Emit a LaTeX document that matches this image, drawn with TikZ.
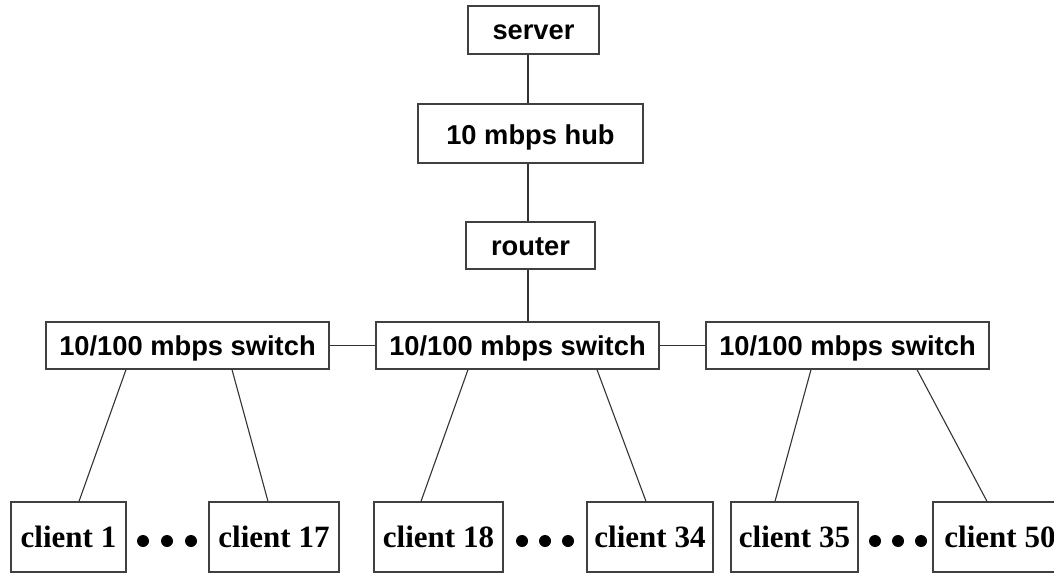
\documentclass[tikz,border=0pt]{standalone}
\usepackage{fontspec}
\setmainfont{Liberation Serif}
\newfontfamily\arialfont{Liberation Sans}
\begin{document}
\begin{tikzpicture}[x=1pt,y=-1pt,
  box/.style={draw=black!75, line width=1.3pt, inner sep=0pt},
  topbox/.style={box, font=\arialfont\bfseries\fontsize{27.3}{31}\selectfont, text height=19.5pt, text depth=0pt},
  swbox/.style={topbox, minimum width=283pt, minimum height=47pt},
  cli/.style={box, font=\bfseries\fontsize{31}{36}\selectfont, minimum height=70pt},
  link/.style={draw=black!80, line width=1.1pt},
  dotnode/.style={circle, fill=black, inner sep=0pt, minimum size=12pt}]
\clip (0,0) rectangle (1054,577);
\coordinate (spine) at (528,0);
% top chain
\node[topbox, minimum width=131pt, minimum height=48pt] (server) at (533.5,30) {server};
\node[topbox, minimum width=225pt, minimum height=59pt, text height=22pt] (hub) at (530.5,133.5) {10 mbps hub};
\node[topbox, minimum width=129pt, minimum height=47pt] (router) at (530.5,245.5) {router};
% switches
\node[swbox] (sw1) at (187.5,345.5) {10/100 mbps switch};
\node[swbox] (sw2) at (517.5,345.5) {10/100 mbps switch};
\node[swbox] (sw3) at (847.5,345.5) {10/100 mbps switch};
% clients
\node[cli, minimum width=115pt] (c1)  at (68.5,537)  {client 1};
\node[cli, minimum width=130pt] (c17) at (274,537)   {client 17};
\node[cli, minimum width=129pt] (c18) at (438.5,537) {client 18};
\node[cli, minimum width=126pt] (c34) at (650,537)   {client 34};
\node[cli, minimum width=127pt] (c35) at (794.5,537) {client 35};
\node[cli, minimum width=134pt] (c50) at (1000,537)  {client 50};
% dots
\foreach \x/\n in {143/a1,167/a2,191/a3,522/b1,545/b2,568/b3,875/d1,898/d2,921/d3}
  \node[dotnode] (dot\n) at (\x,541) {};
% connectors
\draw[link] (server.south -| spine) -- (hub.north -| spine);
\draw[link] (hub.south -| spine) -- (router.north -| spine);
\draw[link] (router.south -| spine) -- (sw2.north -| spine);
\draw[link] (sw1.east) -- (sw2.west);
\draw[link] (sw2.east) -- (sw3.west);
\draw[link] (sw1.south -| 126,0) -- (c1.north -| 79,0);
\draw[link] (sw1.south -| 232,0) -- (c17.north -| 268,0);
\draw[link] (sw2.south -| 468,0) -- (c18.north -| 421,0);
\draw[link] (sw2.south -| 597,0) -- (c34.north -| 646,0);
\draw[link] (sw3.south -| 811,0) -- (c35.north -| 775,0);
\draw[link] (sw3.south -| 917,0) -- (c50.north -| 987,0);
\end{tikzpicture}
\end{document}
